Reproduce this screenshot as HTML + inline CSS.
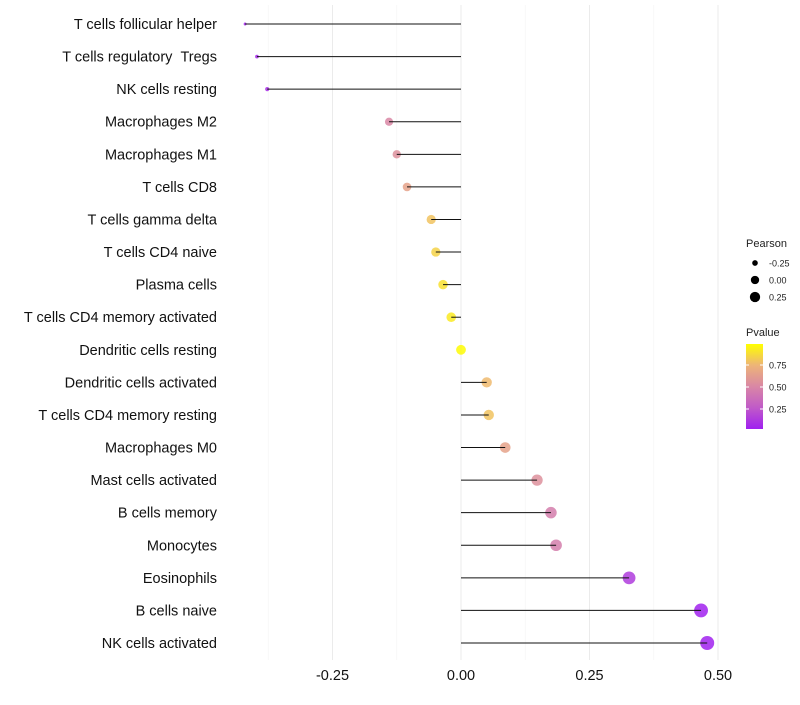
<!DOCTYPE html>
<html><head><meta charset="utf-8"><style>
body{margin:0;background:#fff;font-family:"Liberation Sans",sans-serif}
</style></head><body>
<svg id="chart" width="800" height="700" xmlns="http://www.w3.org/2000/svg" font-family="Liberation Sans, sans-serif"></svg>
<script>
const categories=["T cells follicular helper","T cells regulatory\u00a0\u00a0Tregs","NK cells resting","Macrophages M2","Macrophages M1","T cells CD8","T cells gamma delta","T cells CD4 naive","Plasma cells","T cells CD4 memory activated","Dendritic cells resting","Dendritic cells activated","T cells CD4 memory resting","Macrophages M0","Mast cells activated","B cells memory","Monocytes","Eosinophils","B cells naive","NK cells activated"];
const pearson=[-0.42,-0.397,-0.377,-0.14,-0.125,-0.105,-0.058,-0.049,-0.035,-0.019,0.0,0.05,0.054,0.086,0.148,0.175,0.185,0.327,0.467,0.479];
const pvalue=[0.02,0.03,0.06,0.5,0.55,0.65,0.8,0.85,0.9,0.93,0.99,0.77,0.8,0.65,0.55,0.45,0.45,0.12,0.01,0.01];
const xTicks=[-0.25,0,0.25,0.5];
const xTickLabels=["-0.25","0.00","0.25","0.50"];
const svg=document.getElementById('chart');
const NS="http://www.w3.org/2000/svg";
const xS=v=>461+v*514;
const yS=i=>24+i*(643-24)/19;
const rS=v=>Math.sqrt(Math.max(2,24+52*v));
const stops=[[0,[160,32,240]],[0.25,[192,90,200]],[0.5,[217,135,165]],[0.75,[237,180,120]],[1,[255,255,0]]];
function col(p){for(let k=0;k<stops.length-1;k++){const[a,ca]=stops[k],[b,cb]=stops[k+1];if(p<=b){const t=(p-a)/(b-a);return `rgb(${ca.map((c,j)=>Math.round(c+(cb[j]-c)*t)).join(',')})`;}}return 'rgb(255,255,0)';}
function el(t,at,txt){const e=document.createElementNS(NS,t);for(const k in at)e.setAttribute(k,at[k]);if(txt!==undefined)e.textContent=txt;svg.appendChild(e);return e;}
[-0.375,-0.125,0.125,0.375].forEach(v=>{const e=el('line',{x1:xS(v),x2:xS(v),y1:5,y2:660,stroke:'#f4f4f4','stroke-width':0.6});

});
xTicks.forEach((v,i)=>{const g=el('line',{x1:xS(v),x2:xS(v),y1:5,y2:660,stroke:'#ebebeb','stroke-width':1});


const t=el('text',{x:xS(v),y:680,'text-anchor':'middle','font-size':14.5,fill:'#111'},xTickLabels[i]);

});
categories.forEach((c,i)=>{const y=yS(i);
const l=el('text',{x:217,y:y+5,'text-anchor':'end','font-size':14.5,fill:'#111'},c);


const p=el('circle',{cx:xS(pearson[i]),cy:y,r:rS(pearson[i]),fill:col(pvalue[i]),'fill-opacity':0.85});


const s=el('line',{x1:xS(0),x2:xS(pearson[i]),y1:y,y2:y,stroke:'#111','stroke-width':1});

});
const lt=el('text',{x:746,y:247,'font-size':11,fill:'#222'},'Pearson');


[[-0.25,263],[0,280],[0.25,297]].forEach(([v,y],i)=>{const c=el('circle',{cx:755,cy:y,r:rS(v)*0.85,fill:'#000'});


const t=el('text',{x:769,y:y+3.5,'font-size':9,fill:'#222'},['-0.25','0.00','0.25'][i]);

});
const pt=el('text',{x:746,y:336,'font-size':11,fill:'#222'},'Pvalue');


const defs=el('defs',{});const lg=document.createElementNS(NS,'linearGradient');lg.setAttribute('id','pg');lg.setAttribute('x1',0);lg.setAttribute('x2',0);lg.setAttribute('y1',1);lg.setAttribute('y2',0);defs.appendChild(lg);
stops.forEach(([o,cc])=>{const s=document.createElementNS(NS,'stop');s.setAttribute('offset',o);s.setAttribute('stop-color',`rgb(${cc.join(',')})`);lg.appendChild(s);});
const cb=el('rect',{x:746,y:344,width:17,height:85,fill:'url(#pg)'});


[[0.75,365],[0.5,387],[0.25,409]].forEach(([v,y])=>{el('line',{x1:746,x2:749,y1:y,y2:y,stroke:'#fff'});el('line',{x1:760,x2:763,y1:y,y2:y,stroke:'#fff'});
const t=el('text',{x:769,y:y+3.5,'font-size':9,fill:'#222'},v.toFixed(2));

});
</script>
</body></html>
